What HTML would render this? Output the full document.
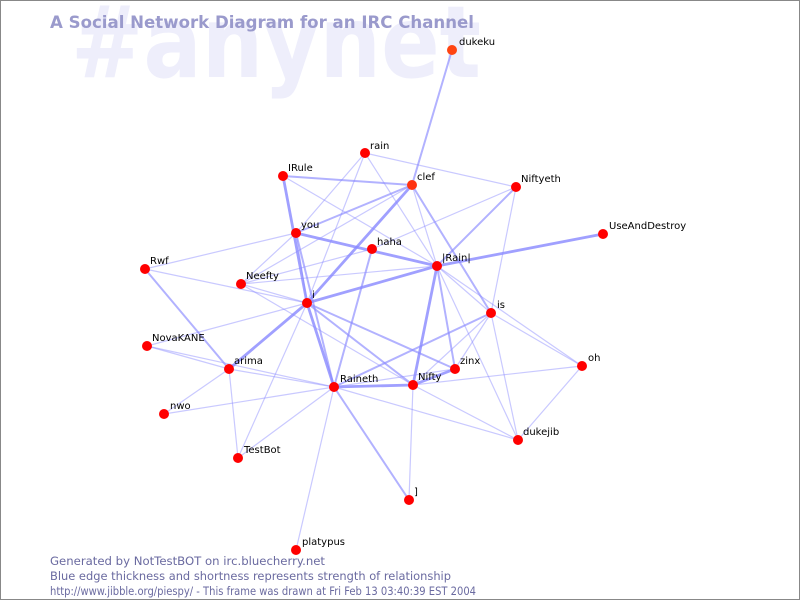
<!DOCTYPE html>
<html><head><style>
html,body{margin:0;padding:0;background:#fff}
svg{display:block}
text{font-family:"DejaVu Sans","Liberation Sans",sans-serif}
</style></head><body>
<svg width="800" height="600" viewBox="0 0 800 600" xmlns="http://www.w3.org/2000/svg">
<rect x="0.5" y="0.5" width="799" height="599" fill="#fff" stroke="#888"/>
<text x="71" y="77" font-size="100" font-weight="bold" fill="#eeeefb" textLength="410" lengthAdjust="spacingAndGlyphs">#anynet</text>
<text x="50" y="28" font-size="16.6" font-weight="bold" fill="#9a9acc" textLength="424" lengthAdjust="spacingAndGlyphs">A Social Network Diagram for an IRC Channel</text>
<g stroke="#8888ff" stroke-linecap="round" fill="none">
<g stroke-opacity="0.45" stroke-width="1.2">
<line x1="365" y1="153" x2="516" y2="187"/>
<line x1="365" y1="153" x2="296" y2="233"/>
<line x1="365" y1="153" x2="307" y2="303"/>
<line x1="365" y1="153" x2="437" y2="266"/>
<line x1="283" y1="176" x2="437" y2="266"/>
<line x1="412" y1="185" x2="437" y2="266"/>
<line x1="412" y1="185" x2="241" y2="284"/>
<line x1="516" y1="187" x2="372" y2="249"/>
<line x1="516" y1="187" x2="491" y2="313"/>
<line x1="296" y1="233" x2="145" y2="269"/>
<line x1="296" y1="233" x2="241" y2="284"/>
<line x1="372" y1="249" x2="241" y2="284"/>
<line x1="437" y1="266" x2="241" y2="284"/>
<line x1="437" y1="266" x2="491" y2="313"/>
<line x1="437" y1="266" x2="518" y2="440"/>
<line x1="437" y1="266" x2="582" y2="366"/>
<line x1="145" y1="269" x2="307" y2="303"/>
<line x1="241" y1="284" x2="307" y2="303"/>
<line x1="241" y1="284" x2="413" y2="385"/>
<line x1="307" y1="303" x2="147" y2="346"/>
<line x1="307" y1="303" x2="238" y2="458"/>
<line x1="491" y1="313" x2="455" y2="369"/>
<line x1="491" y1="313" x2="582" y2="366"/>
<line x1="491" y1="313" x2="518" y2="440"/>
<line x1="491" y1="313" x2="413" y2="385"/>
<line x1="147" y1="346" x2="229" y2="369"/>
<line x1="147" y1="346" x2="334" y2="387"/>
<line x1="229" y1="369" x2="334" y2="387"/>
<line x1="229" y1="369" x2="238" y2="458"/>
<line x1="229" y1="369" x2="164" y2="414"/>
<line x1="334" y1="387" x2="455" y2="369"/>
<line x1="334" y1="387" x2="296" y2="550"/>
<line x1="334" y1="387" x2="164" y2="414"/>
<line x1="334" y1="387" x2="518" y2="440"/>
<line x1="334" y1="387" x2="238" y2="458"/>
<line x1="413" y1="385" x2="582" y2="366"/>
<line x1="413" y1="385" x2="409" y2="500"/>
<line x1="413" y1="385" x2="518" y2="440"/>
<line x1="582" y1="366" x2="518" y2="440"/>
<line x1="296" y1="233" x2="307" y2="303"/>
</g>
<g stroke-opacity="0.65" stroke-width="2">
<line x1="452" y1="50" x2="412" y2="185"/>
<line x1="283" y1="176" x2="412" y2="185"/>
<line x1="412" y1="185" x2="296" y2="233"/>
<line x1="412" y1="185" x2="491" y2="313"/>
<line x1="516" y1="187" x2="437" y2="266"/>
<line x1="296" y1="233" x2="334" y2="387"/>
<line x1="372" y1="249" x2="334" y2="387"/>
<line x1="437" y1="266" x2="455" y2="369"/>
<line x1="307" y1="303" x2="455" y2="369"/>
<line x1="307" y1="303" x2="413" y2="385"/>
<line x1="491" y1="313" x2="334" y2="387"/>
<line x1="334" y1="387" x2="409" y2="500"/>
<line x1="145" y1="269" x2="229" y2="369"/>
</g>
<g stroke-opacity="0.8" stroke-width="2.8">
<line x1="283" y1="176" x2="307" y2="303"/>
<line x1="412" y1="185" x2="307" y2="303"/>
<line x1="603" y1="234" x2="437" y2="266"/>
<line x1="296" y1="233" x2="437" y2="266"/>
<line x1="437" y1="266" x2="307" y2="303"/>
<line x1="437" y1="266" x2="413" y2="385"/>
<line x1="307" y1="303" x2="229" y2="369"/>
<line x1="307" y1="303" x2="334" y2="387"/>
<line x1="334" y1="387" x2="413" y2="385"/>
<line x1="413" y1="385" x2="455" y2="369"/>
</g>
</g>
<g fill="#ff0000">
<circle cx="452" cy="50" r="5" fill="#ff4411"/>
<circle cx="365" cy="153" r="5"/>
<circle cx="283" cy="176" r="5"/>
<circle cx="412" cy="185" r="5" fill="#ff3311"/>
<circle cx="516" cy="187" r="5"/>
<circle cx="603" cy="234" r="5"/>
<circle cx="296" cy="233" r="5"/>
<circle cx="372" cy="249" r="5"/>
<circle cx="437" cy="266" r="5"/>
<circle cx="145" cy="269" r="5"/>
<circle cx="241" cy="284" r="5"/>
<circle cx="307" cy="303" r="5"/>
<circle cx="491" cy="313" r="5"/>
<circle cx="147" cy="346" r="5"/>
<circle cx="229" cy="369" r="5"/>
<circle cx="455" cy="369" r="5"/>
<circle cx="582" cy="366" r="5"/>
<circle cx="334" cy="387" r="5"/>
<circle cx="413" cy="385" r="5"/>
<circle cx="164" cy="414" r="5"/>
<circle cx="518" cy="440" r="5"/>
<circle cx="238" cy="458" r="5"/>
<circle cx="409" cy="500" r="5"/>
<circle cx="296" cy="550" r="5"/>
</g>
<g font-size="10" fill="#000">
<text x="459" y="45">dukeku</text>
<text x="370" y="149">rain</text>
<text x="288" y="171">IRule</text>
<text x="417" y="180">clef</text>
<text x="521" y="182">Niftyeth</text>
<text x="609" y="229">UseAndDestroy</text>
<text x="301" y="228">you</text>
<text x="377" y="245">haha</text>
<text x="442" y="261">|Rain|</text>
<text x="150" y="264">Rwf</text>
<text x="246" y="279">Neefty</text>
<text x="312" y="298">i</text>
<text x="497" y="308">is</text>
<text x="152" y="341">NovaKANE</text>
<text x="234" y="364">arima</text>
<text x="460" y="364">zinx</text>
<text x="588" y="361">oh</text>
<text x="340" y="382">Raineth</text>
<text x="418" y="380">Nifty</text>
<text x="170" y="409">nwo</text>
<text x="523" y="435">dukejib</text>
<text x="244" y="453">TestBot</text>
<text x="414" y="495">]</text>
<text x="302" y="545">platypus</text>
</g>
<g font-size="11.5" fill="#6a6aa0">
<text x="50" y="565" textLength="275" lengthAdjust="spacingAndGlyphs">Generated by NotTestBOT on irc.bluecherry.net</text>
<text x="50" y="580" textLength="401" lengthAdjust="spacingAndGlyphs">Blue edge thickness and shortness represents strength of relationship</text>
<text x="50" y="595" textLength="426" lengthAdjust="spacingAndGlyphs">http://www.jibble.org/piespy/ - This frame was drawn at Fri Feb 13 03:40:39 EST 2004</text>
</g>
</svg>
</body></html>
